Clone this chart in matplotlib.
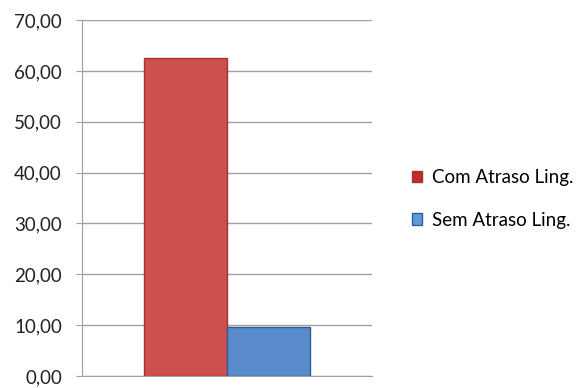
import matplotlib
matplotlib.use("Agg")
import matplotlib.pyplot as plt
import numpy as np
from matplotlib.patches import Patch

# data
series = ["Com Atraso Ling.", "Sem Atraso Ling."]
values = [62.5, 9.6]
colors = ["#CD4F4E", "#5A8BCB"]
edges = ["#A23634", "#2F5E96"]
yticks = np.arange(0, 71, 10)

plt.rcParams["font.family"] = ["Lato", "DejaVu Sans"]
plt.rcParams["font.size"] = 13.5

fig = plt.figure(figsize=(5.76, 3.88), dpi=100)
ax = fig.add_axes([0.142, 0.031, 0.504, 0.917])

width = 0.286
offsets = [-width / 2, width / 2]
for v, off, c, e, lab in zip(values, offsets, colors, edges, series):
    ax.bar(off, v, width=width, color=c, edgecolor=e, linewidth=1.0, label=lab, zorder=3)

ax.set_xlim(-0.5, 0.5)
ax.set_ylim(0, 70)
ax.set_yticks(yticks)
ax.set_yticklabels([f"{t:.2f}".replace(".", ",") for t in yticks], color="#222222")
ax.set_xticks([])
ax.grid(axis="y", color="#A0A0A0", lw=1.0, zorder=0)
for s in ["top", "right"]:
    ax.spines[s].set_visible(False)
ax.spines["left"].set_color("#A0A0A0")
ax.spines["bottom"].set_color("#A0A0A0")
ax.tick_params(axis="y", length=4.3, color="#A0A0A0", pad=10)

handles = [Patch(facecolor=c, edgecolor=e, label=l) for c, e, l in zip(["#C42B2B", "#5C9BD8"], edges, series)]
fig.legend(handles=handles, loc="center left", bbox_to_anchor=(0.715, 0.487),
           frameon=False, handlelength=0.55, handleheight=0.55, handletextpad=0.55,
           labelspacing=1.35, borderpad=0, borderaxespad=0, fontsize=13.5)

fig.savefig("out.png", dpi=100)
